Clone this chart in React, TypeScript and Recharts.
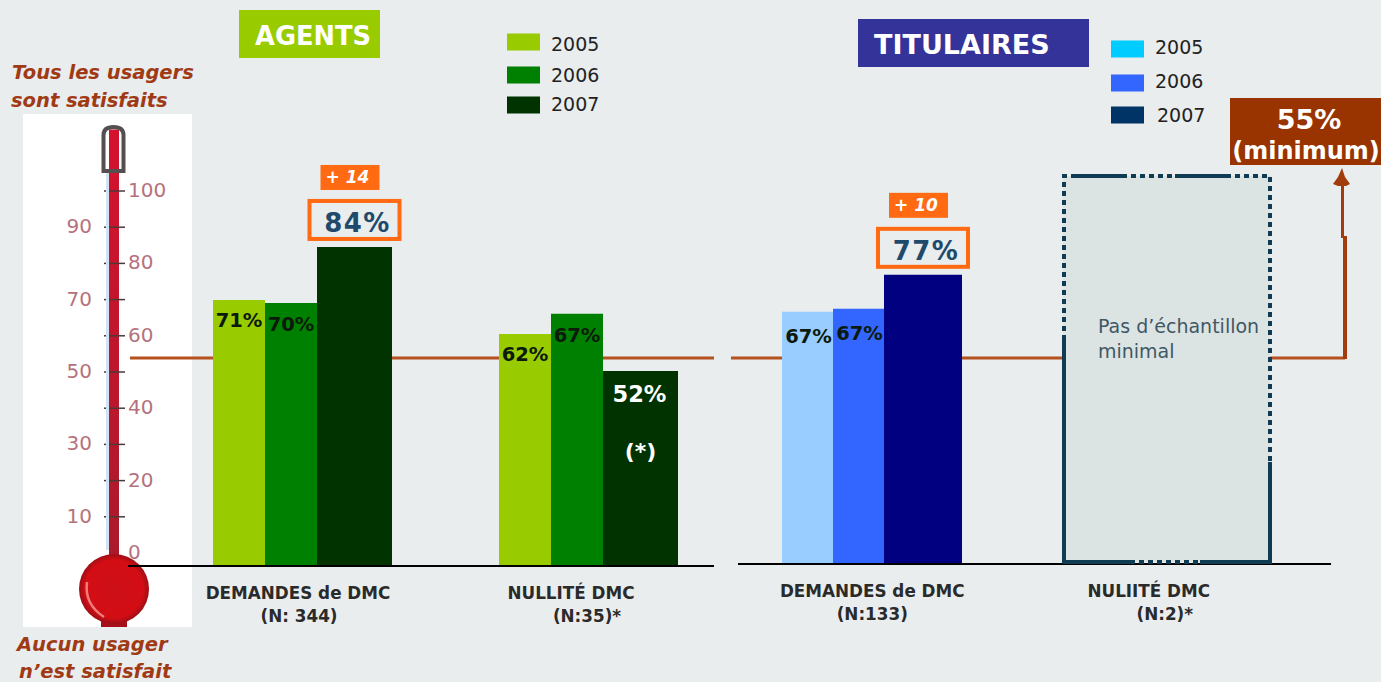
import { Bar, BarChart, LabelList, ReferenceLine, XAxis, YAxis } from 'recharts'

const W = 1381
const H = 682
const BG = '#e9edee'
const BROWN = '#a33c0c'
const FONT = '"DejaVu Sans", Verdana, sans-serif'

// agents panel
const agentCategories = ['DEMANDES de DMC', 'NULLITÉ DMC']
const agentSamples = ['(N: 344)', '(N:35)*']
const agents2005 = [70.4, 61.4]
const agents2006 = [69.6, 66.7]
const agents2007 = [84.4, 51.6]
const agentLabels2005 = ['71%', '62%']
const agentLabels2006 = ['70%', '67%']
const agentLabels2007 = ['84%', '52%']
const agentDeltas = ['+ 14', null]

// titulaires panel, the second category has no sample
const titulaireCategories = ['DEMANDES de DMC', 'NULIITÉ DMC']
const titulaireSamples = ['(N:133)', '(N:2)*']
const titulaires2005 = [66.7, null]
const titulaires2006 = [67.5, null]
const titulaires2007 = [76.5, null]
const titulaireLabels2005 = ['67%', null]
const titulaireLabels2006 = ['67%', null]
const titulaireLabels2007 = ['77%', null]
const titulaireDeltas = ['+ 10', null]

const thresholdAgents = 55
const thresholdTitulaires = 54.5

// thermometer
const thermoTicks = [0, 10, 20, 30, 40, 50, 60, 70, 80, 90, 100]
const thermoLevel = [117]

const years = ['2005', '2006', '2007']
const agentLegendColors = ['#99cc00', '#008000', '#003300']
const titulaireLegendColors = ['#00ccff', '#3366ff', '#003366']
const titulaireBarColors = ['#99ccff', '#3366ff', '#000080']

const agentData = agentCategories.map((category, i) => ({
  category,
  sample: agentSamples[i],
  y2005: agents2005[i],
  y2006: agents2006[i],
  y2007: agents2007[i],
}))
const titulaireData = titulaireCategories.map((category, i) => ({
  category,
  sample: titulaireSamples[i],
  y2005: titulaires2005[i],
  y2006: titulaires2006[i],
  y2007: titulaires2007[i],
}))
const thermoData = [{ name: 'niveau', level: thermoLevel[0] }]

const layer = { position: 'absolute', left: 0, top: 0 } as const

const agentMargin = { top: 188, right: 667, bottom: 86, left: 130 }
const titulaireMargin = { top: 186, right: 50, bottom: 88, left: 738 }

const CategoryTick = ({ x, y, payload, index, samples, nudge }: any) => (
  <g fontFamily={FONT} fontWeight="bold" fontSize={16.8} fill="#2a2a2a" textAnchor="middle">
    <text x={x + nudge[index][0]} y={y + 25}>
      {payload.value}
    </text>
    <text x={x + nudge[index][1]} y={y + 48}>
      {samples[index]}
    </text>
  </g>
)

const barLabel = (labels: (string | null)[], dx: number, dy: number) => (props: any) => {
  const text = labels[props.index]
  if (!text) return null
  return (
    <text
      x={props.x + props.width / 2 + dx}
      y={props.y + dy}
      textAnchor="middle"
      fontFamily={FONT}
      fontWeight="bold"
      fontSize={19.5}
      fill="#0b1a0b"
    >
      {text}
    </text>
  )
}

const topLabel = (labels: (string | null)[], deltas: (string | null)[]) => (props: any) => {
  const text = labels[props.index]
  if (!text) return null
  const cx = props.x + props.width / 2
  const delta = deltas[props.index]
  if (!delta) {
    return (
      <g fontFamily={FONT} fontWeight="bold" fill="#ffffff" textAnchor="middle">
        <text x={cx - 1} y={props.y + 31} fontSize={22.5}>
          {text}
        </text>
        <text x={cx} y={props.y + 88} fontSize={22}>
          (*)
        </text>
      </g>
    )
  }
  return (
    <g fontFamily={FONT}>
      <rect x={cx - 45} y={props.y - 46} width={90} height={38} fill={BG} stroke="#ff6a13" strokeWidth={4} />
      <text
        x={cx + 3}
        y={props.y - 15}
        textAnchor="middle"
        fontSize={26}
        fontWeight="bold"
        letterSpacing={1.5}
        fill="#1f4a6b"
      >
        {text}
      </text>
      <rect x={cx - 34} y={props.y - 82} width={59} height={25} fill="#ff6a13" />
      <text
        x={cx - 7}
        y={props.y - 64}
        textAnchor="middle"
        fontSize={17}
        fontWeight="bold"
        fontStyle="italic"
        fill="#ffffff"
      >
        {delta}
      </text>
    </g>
  )
}

// the threshold runs past the plot on both sides and turns up into the arrow
const ThresholdArrow = ({ y1 }: any) => (
  <g>
    <path d={`M731 ${y1}H1345`} stroke="#b5501f" strokeWidth={3} fill="none" />
    <path d={`M1345 ${y1 + 1}V236`} stroke={BROWN} strokeWidth={4} fill="none" />
    <path d="M1342.5 238V178" stroke={BROWN} strokeWidth={3} fill="none" />
    <path d="M1342 168L1345 177L1350 184L1346 186H1338L1333 184L1338 177Z" fill={BROWN} />
  </g>
)

// reference lines paint over bars, so the thresholds get their own chart underneath
const ThresholdLines = () => (
  <>
    <BarChart width={W} height={H} data={agentData} style={layer} margin={{ ...agentMargin, bottom: 116 }}>
      <XAxis dataKey="category" hide />
      <YAxis hide domain={[0, 100]} />
      <Bar dataKey="y2005" fill="none" isAnimationActive={false} />
      <ReferenceLine y={thresholdAgents} stroke="#b5501f" strokeWidth={3} />
    </BarChart>
    <BarChart width={W} height={H} data={titulaireData} style={layer} margin={{ ...titulaireMargin, bottom: 118 }}>
      <XAxis dataKey="category" hide />
      <YAxis hide domain={[0, 100]} />
      <Bar dataKey="y2005" fill="none" isAnimationActive={false} />
      <ReferenceLine y={thresholdTitulaires} shape={ThresholdArrow} />
    </BarChart>
  </>
)

const AgentsChart = () => (
  <BarChart width={W} height={H} data={agentData} style={layer} barGap={0} margin={agentMargin}>
    <XAxis
      dataKey="category"
      padding={{ left: 29, right: -17 }}
      axisLine={{ stroke: '#000000', strokeWidth: 2 }}
      tickLine={false}
      interval={0}
      tick={<CategoryTick samples={agentSamples} nudge={[[-4, -3], [-17, -1]]} />}
    />
    <YAxis hide domain={[0, 100]} />
    <Bar dataKey="y2005" barSize={52} fill={agentLegendColors[0]} isAnimationActive={false}>
      <LabelList dataKey="y2005" content={barLabel(agentLabels2005, 0, 27)} />
    </Bar>
    <Bar dataKey="y2006" barSize={52} fill={agentLegendColors[1]} isAnimationActive={false}>
      <LabelList dataKey="y2006" content={barLabel(agentLabels2006, 0, 28)} />
    </Bar>
    <Bar dataKey="y2007" barSize={75} fill={agentLegendColors[2]} isAnimationActive={false}>
      <LabelList dataKey="y2007" content={topLabel(agentLabels2007, agentDeltas)} />
    </Bar>
  </BarChart>
)

const TitulairesChart = () => (
  <BarChart width={W} height={H} data={titulaireData} style={layer} barGap={0} margin={titulaireMargin}>
    <XAxis
      dataKey="category"
      padding={{ left: -13, right: 17 }}
      axisLine={{ stroke: '#000000', strokeWidth: 2 }}
      tickLine={false}
      interval={0}
      tick={<CategoryTick samples={titulaireSamples} nudge={[[0, 0], [-18, -2]]} />}
    />
    <YAxis hide domain={[0, 100]} />
    <Bar dataKey="y2005" barSize={51} fill={titulaireBarColors[0]} isAnimationActive={false}>
      <LabelList dataKey="y2005" content={barLabel(titulaireLabels2005, 1, 31)} />
    </Bar>
    <Bar dataKey="y2006" barSize={51} fill={titulaireBarColors[1]} isAnimationActive={false}>
      <LabelList dataKey="y2006" content={barLabel(titulaireLabels2006, 1, 31)} />
    </Bar>
    <Bar dataKey="y2007" barSize={78} fill={titulaireBarColors[2]} isAnimationActive={false}>
      <LabelList dataKey="y2007" content={topLabel(titulaireLabels2007, titulaireDeltas)} />
    </Bar>
  </BarChart>
)

const ThermoTick = ({ y, payload }: any) => {
  const v = payload.value
  const right = (v / 10) % 2 === 0
  return (
    <text
      x={right ? 105 : 69}
      y={y + 6}
      textAnchor={right ? 'start' : 'end'}
      fontFamily={FONT}
      fontSize={20}
      fill="#b5727e"
    >
      {v}
    </text>
  )
}

// graduation marks cross the mercury, so they are reference lines on top of the bar
const ThermoMark = ({ y1 }: any) => <line x1={81} x2={102} y1={y1} y2={y1} stroke="#4a3a3a" strokeWidth={1.5} />

const Thermometer = () => (
  <BarChart
    width={169}
    height={513}
    data={thermoData}
    style={{ position: 'absolute', left: 23, top: 114, background: '#ffffff' }}
    margin={{ top: 4.6, right: 0, bottom: 74, left: 12 }}
  >
    <defs>
      <linearGradient id="mercury" x1="0" y1="0" x2="0" y2="1">
        <stop offset="0" stopColor="#d5122e" />
        <stop offset="1" stopColor="#ab1a2c" />
      </linearGradient>
    </defs>
    <XAxis dataKey="name" hide />
    <YAxis
      width={1}
      domain={[0, 120]}
      ticks={thermoTicks}
      interval={0}
      axisLine={false}
      tickLine={false}
      tick={<ThermoTick />}
    />
    <Bar dataKey="level" barSize={10} fill="url(#mercury)" isAnimationActive={false} />
    {thermoTicks.slice(1).map((v) => (
      <ReferenceLine key={v} y={v} shape={ThermoMark} />
    ))}
  </BarChart>
)

const Legend = ({ x, textX, rows, textRows, colors }: any) => (
  <g>
    {years.map((year, i) => (
      <g key={year}>
        <rect x={x} y={rows[i] - 8.500} width={textX[0] - x - 11} height={17} fill={colors[i]} />
        <text x={textX[i]} y={textRows[i] + 7} fontFamily={FONT} fontSize={19} fill="#222222">
          {year}
        </text>
      </g>
    ))}
  </g>
)

const Decorations = () => (
  <svg width={W} height={H} style={layer}>
    <defs>
      <radialGradient id="bulb" cx="0.5" cy="0.5" r="0.55">
        <stop offset="0" stopColor="#cc0f18" />
        <stop offset="0.75" stopColor="#d40d14" />
        <stop offset="1" stopColor="#7d1016" />
      </radialGradient>
    </defs>

    {/* thermometer */}
    <path d="M107.500 172V550" stroke="#cfe3f2" strokeWidth={3} />
    <path d="M103.500 171V135Q103.500 127 113.500 127Q123.500 127 123.500 135V171Z" fill="none" stroke="#55504f" strokeWidth={4} />
    <rect x={109} y={545} width={10} height={14} fill="#ab1a2c" />
    <rect x={101} y={619} width={26} height={8} fill="#a5101a" />
    <circle cx={114} cy={589} r={35} fill="url(#bulb)" />
    <path d="M87 582Q84 604 104 617" stroke="#ee7c7c" strokeWidth={2.500} fill="none" />
    <line x1={128} x2={214} y1={566} y2={566} stroke="#000000" strokeWidth={2} />

    <g fontFamily={FONT} fontWeight="bold" fontStyle="italic" fontSize={19.500} fill="#a03a14">
      <text x={12} y={79}>Tous les usagers</text>
      <text x={11} y={107}>sont satisfaits</text>
      <text x={17} y={651}>Aucun usager</text>
      <text x={19} y={678}>n’est satisfait</text>
    </g>

    {/* titles */}
    <rect x={239} y={10} width={141} height={48} fill="#99cc00" />
    <text x={255} y={45} fontFamily={FONT} fontWeight="bold" fontSize={25.700} fill="#ffffff">AGENTS</text>
    <rect x={858} y={19} width={231} height={48} fill="#333399" />
    <text x={874} y={54} fontFamily={FONT} fontWeight="bold" fontSize={27} fill="#ffffff">TITULAIRES</text>

    <Legend x={507} textX={[551, 551, 551]} rows={[42, 75, 105]} textRows={[44, 75, 104]} colors={agentLegendColors} />
    <Legend x={1111} textX={[1155, 1155, 1157]} rows={[49, 83, 115]} textRows={[47, 81, 115]} colors={titulaireLegendColors} />

    {/* minimum tag */}
    <rect x={1230} y={98} width={151} height={67} fill="#993300" />
    <g fontFamily={FONT} fontWeight="bold" fill="#ffffff" textAnchor="middle">
      <text x={1309} y={129} fontSize={27}>55%</text>
      <text x={1306} y={159} fontSize={24}>(minimum)</text>
    </g>

    {/* no sample box */}
    <rect x={1063} y={176} width={207} height={386} fill="#dce3e3" />
    <g stroke="#0f3c52" strokeWidth={4} fill="none">
      <path d="M1064 340V176H1072" strokeDasharray="5 4" />
      <path d="M1072 176H1122M1175 176H1226M1064 340V562H1130M1200 562H1270V462" />
      <path d="M1122 176H1175M1226 176H1270V462M1130 562H1200" strokeDasharray="5 4" />
    </g>
    <g fontFamily={FONT} fontSize={19} fill="#3f5864">
      <text x={1098} y={333}>Pas d’échantillon</text>
      <text x={1098} y={358}>minimal</text>
    </g>
  </svg>
)

export default function App() {
  return (
    <div style={{ ...layer, width: W, height: H, background: BG, overflow: 'hidden' }}>
      <Thermometer />
      <ThresholdLines />
      <AgentsChart />
      <TitulairesChart />
      <Decorations />
    </div>
  )
}
